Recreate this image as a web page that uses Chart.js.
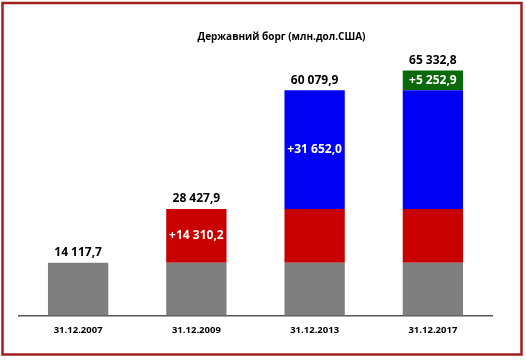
<!DOCTYPE html>
<html>
<head>
<meta charset="utf-8">
<script src="https://cdn.jsdelivr.net/npm/chart.js@4"></script>
<style>
  html, body { margin: 0; padding: 0; background: #fff; }
  #wrap { width: 526px; height: 360px; }
</style>
</head>
<body>
<div id="wrap"><canvas id="chart" width="526" height="360"></canvas></div>
<script>
// categories and values (млн. дол. США)
var chartTitle = "Державний борг (млн.дол.США)";
var categories = ["31.12.2007", "31.12.2009", "31.12.2013", "31.12.2017"];
var baseDebt = [14117.7, 14117.7, 14117.7, 14117.7];
var added2009 = [0, 14310.2, 14310.2, 14310.2];
var added2013 = [0, 0, 31652.0, 31652.0];
var added2017 = [0, 0, 0, 5252.9];
var totals = [14117.7, 28427.9, 60079.9, 65332.8];
// which bar shows the "+..." label of each increase
var increaseLabelAt = [null, 1, 2, 3];

function fmt(v) {
    var parts = v.toFixed(1).split(".");
    return parts[0].replace(/\B(?=(\d{3})+(?!\d))/g, " ") + "," + parts[1];
}

var labelPlugin = {
    id: "labels",
    beforeDraw: function(chart) {
        var ctx = chart.ctx;
        ctx.save();
        ctx.fillStyle = "#fff";
        ctx.fillRect(0, 0, chart.width, chart.height);
        ctx.restore();
    },
    afterDatasetsDraw: function(chart) {
        var ctx = chart.ctx;
        var yScale = chart.scales.y;
        var area = chart.chartArea;
        ctx.save();
        ctx.textAlign = "center";
        ctx.textBaseline = "middle";

        //title, sits a bit right of the plot centre like in the original
        ctx.fillStyle = "#000";
        ctx.font = "bold 10px 'Open Sans'";
        ctx.fillText(chartTitle, (area.left + area.right) / 2 + 26, 37);

        ctx.font = "bold 12px 'Open Sans'";

        //increase labels inside the segments
        chart.data.datasets.forEach(function(ds, i) {
            var idx = increaseLabelAt[i];
            if (idx === null) return;
            var bar = chart.getDatasetMeta(i).data[idx];
            ctx.fillStyle = "#fff";
            ctx.fillText("+" + fmt(ds.data[idx]), bar.x, (bar.y + bar.base) / 2);
        });

        //totals above the bars
        var meta = chart.getDatasetMeta(0);
        totals.forEach(function(t, j) {
            ctx.fillStyle = "#000";
            ctx.fillText(fmt(t), meta.data[j].x, yScale.getPixelForValue(t) - 10);
        });
        ctx.restore();
    },
    afterDraw: function(chart) {
        var ctx = chart.ctx;
        ctx.save();
        ctx.strokeStyle = "#a21f1f";
        ctx.lineWidth = 2.5;
        ctx.strokeRect(2.5, 3, 519, 351.5);
        ctx.restore();
    }
};

new Chart(document.getElementById("chart"), {
    type: "bar",
    data: {
        labels: categories,
        datasets: [
            { data: baseDebt, backgroundColor: "#7f7f7f" },
            { data: added2009, backgroundColor: "#c80000" },
            { data: added2013, backgroundColor: "#0000f2" },
            { data: added2017, backgroundColor: "#0a690a" }
        ]
    },
    options: {
        responsive: false,
        animation: false,
        layout: {
            padding: { left: 19, right: 34, top: 53, bottom: 15 }
        },
        datasets: {
            bar: { barPercentage: 1, categoryPercentage: 0.51, borderWidth: 0 }
        },
        plugins: {
            legend: { display: false },
            tooltip: { enabled: false },
            title: { display: false }
        },
        scales: {
            x: {
                stacked: true,
                grid: { display: false, drawTicks: false },
                border: { display: true, color: "#595959", width: 1.5 },
                ticks: {
                    color: "#000",
                    padding: 9,
                    font: { family: "'Open Sans'", size: 9.5, weight: "bold" }
                }
            },
            y: {
                stacked: true,
                display: false,
                min: 0,
                max: 70000
            }
        }
    },
    plugins: [labelPlugin]
});
</script>
</body>
</html>
